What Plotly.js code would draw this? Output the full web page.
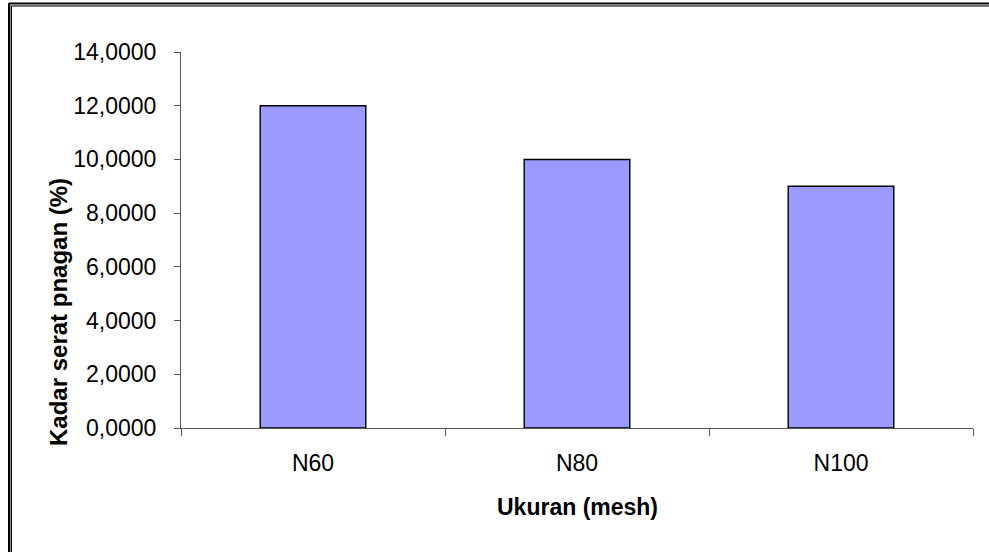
<!DOCTYPE html>
<html>
<head>
<meta charset="utf-8">
<script src="https://cdn.plot.ly/plotly-3.0.1.min.js"></script>
<style>
  html, body { margin: 0; padding: 0; background: #fff; }
  #chart { width: 989px; height: 552px; }
</style>
</head>
<body>
<div id="chart"></div>
<script>
// Data
const categories = ["N60", "N80", "N100"];
const kadarSerat = [12.0, 10.0, 9.0];
const yTickValues = [0, 2, 4, 6, 8, 10, 12, 14];
const xTitle = "Ukuran (mesh)";
const yTitle = "Kadar serat pnagan (%)";

// Plot area geometry (px)
const W = 989, H = 552;
const L = 181, R = 973, T = 52, B = 428;
const pw = R - L, ph = B - T;
const px2x = p => (p - L) / pw;
const px2y = p => (B - p) / ph;

const font = "'Liberation Sans', Arial, sans-serif";

const trace = {
  type: "bar",
  x: categories,
  y: kadarSerat,
  width: 0.4,
  marker: { color: "#9999FF", line: { color: "#000000", width: 1.4 } },
  hoverinfo: "x+y"
};

const layout = {
  width: W, height: H,
  margin: { l: L, r: W - R, t: T, b: H - B, pad: 0 },
  paper_bgcolor: "#ffffff",
  plot_bgcolor: "#ffffff",
  separators: ",.",
  showlegend: false,
  font: { family: font, color: "#000", size: 23 },
  xaxis: {
    type: "category",
    showline: true, linecolor: "#555", linewidth: 1,
    ticks: "outside", tickson: "boundaries", ticklen: 7, tickcolor: "#555", tickwidth: 1,
    tickfont: { family: font, size: 23, color: "#000" },
    ticklabelstandoff: 14,
    showgrid: false, zeroline: false,
    fixedrange: true
  },
  yaxis: {
    range: [0, 14],
    tickvals: yTickValues,
    tickformat: ".4f",
    showline: true, linecolor: "#555", linewidth: 1,
    ticks: "outside", ticklen: 6, tickcolor: "#555", tickwidth: 1,
    tickfont: { family: font, size: 23, color: "#000" },
    ticklabelstandoff: 13,
    showgrid: false, zeroline: false,
    fixedrange: true
  },
  annotations: [
    {
      text: "<b>" + xTitle + "</b>",
      xref: "paper", yref: "paper",
      x: 0.5, y: px2y(507),
      xanchor: "center", yanchor: "middle",
      showarrow: false,
      font: { family: font, size: 23, color: "#000" }
    },
    {
      text: "<b>" + yTitle + "</b>",
      xref: "paper", yref: "paper",
      x: px2x(58), y: px2y(312),
      xanchor: "center", yanchor: "middle",
      textangle: -90,
      showarrow: false,
      font: { family: font, size: 24, color: "#000" }
    }
  ],
  shapes: [
    // outer double border (top and left)
    { type: "line", xref: "paper", yref: "paper", x0: px2x(9), x1: px2x(995), y0: px2y(3.5), y1: px2y(3.5), line: { color: "#000", width: 2 } },
    { type: "line", xref: "paper", yref: "paper", x0: px2x(9), x1: px2x(9), y0: px2y(3), y1: px2y(560), line: { color: "#000", width: 2 } },
    { type: "line", xref: "paper", yref: "paper", x0: px2x(10.5), x1: px2x(995), y0: px2y(5), y1: px2y(5), line: { color: "#999", width: 1 } },
    { type: "line", xref: "paper", yref: "paper", x0: px2x(10.5), x1: px2x(10.5), y0: px2y(5), y1: px2y(560), line: { color: "#999", width: 1 } },
    { type: "line", xref: "paper", yref: "paper", x0: px2x(11.5), x1: px2x(995), y0: px2y(6), y1: px2y(6), line: { color: "#000", width: 1 } },
    { type: "line", xref: "paper", yref: "paper", x0: px2x(11.5), x1: px2x(11.5), y0: px2y(6), y1: px2y(560), line: { color: "#000", width: 1 } }
  ]
};

Plotly.newPlot("chart", [trace], layout, { displayModeBar: false, staticPlot: true });
</script>
</body>
</html>
